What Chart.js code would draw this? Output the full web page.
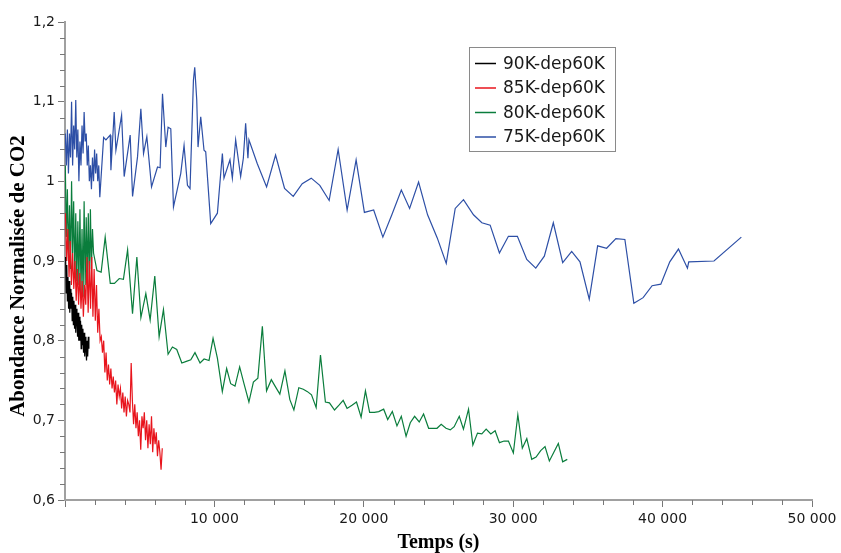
<!DOCTYPE html>
<html>
<head>
<meta charset="utf-8">
<script src="https://cdn.jsdelivr.net/npm/chart.js@4"></script>
<style>
  body { margin: 0; background: #fff; }
</style>
</head>
<body>
<canvas id="chart" width="841" height="553"></canvas>
<script>
// times (s) and normalised CO2 abundance
const labels = ['90K-dep60K', '85K-dep60K', '80K-dep60K', '75K-dep60K'];
const colors = ['#000000', '#e8141c', '#0a7d3c', '#2d4fa6'];
const yTitle = 'Abondance Normalisée de CO2';

const tBlack = [40, 80, 120, 160, 200, 240, 280, 320, 360, 400, 440, 480, 520, 560, 600, 640, 680, 720, 760, 800,
  840, 880, 920, 960, 1000, 1040, 1080, 1120, 1160, 1200, 1240, 1280, 1320, 1360, 1400, 1440, 1480, 1520, 1560, 1600];
const vBlack = [0.905, 0.86, 0.895, 0.85, 0.88, 0.84, 0.875, 0.835, 0.865, 0.84, 0.86, 0.825, 0.855, 0.82, 0.85, 0.815, 0.845, 0.81, 0.84, 0.825,
  0.805, 0.835, 0.80, 0.83, 0.80, 0.825, 0.79, 0.82, 0.795, 0.815, 0.785, 0.81, 0.78, 0.805, 0.79, 0.775, 0.80, 0.78, 0.805, 0.79];

const tRed = [30, 110, 190, 270, 350, 430, 510, 590, 670, 750, 830, 910, 990, 1070, 1150, 1230, 1310, 1390, 1470, 1550,
  1630, 1710, 1790, 1870, 1950, 2030, 2110, 2190, 2270, 2350, 2430, 2510, 2590, 2670, 2750, 2830, 2910, 2990, 3070, 3150,
  3230, 3310, 3390, 3470, 3550, 3630, 3710, 3790, 3870, 3950, 4030, 4110, 4190, 4270, 4350, 4430, 4510, 4590, 4670, 4750,
  4830, 4910, 4990, 5070, 5150, 5230, 5310, 5390, 5470, 5550, 5630, 5710, 5790, 5870, 5950, 6030, 6110, 6190, 6270, 6350,
  6430, 6510];
const vRed = [0.96, 0.90, 0.94, 0.88, 0.925, 0.87, 0.91, 0.865, 0.90, 0.85,
  0.89, 0.845, 0.885, 0.84, 0.875, 0.83, 0.87, 0.845, 0.905, 0.835,
  0.90, 0.84, 0.905, 0.83, 0.89, 0.825, 0.87, 0.81, 0.84, 0.80,
  0.805, 0.785, 0.80, 0.76, 0.785, 0.75, 0.77, 0.745, 0.765, 0.74,
  0.755, 0.735, 0.75, 0.72, 0.745, 0.73, 0.74, 0.715, 0.735, 0.71,
  0.73, 0.705, 0.725, 0.72, 0.71, 0.772, 0.725, 0.695, 0.72, 0.69,
  0.71, 0.68, 0.70, 0.663, 0.705, 0.69, 0.71, 0.675, 0.70, 0.665,
  0.695, 0.67, 0.705, 0.66, 0.69, 0.67, 0.685, 0.655, 0.675, 0.66,
  0.638, 0.665];

const tGreen = [20, 90, 160, 230, 300, 370, 440, 510, 580, 650, 720, 790, 860, 930, 1000, 1070, 1140, 1210, 1280, 1350,
  1420, 1490, 1560, 1630, 1700, 1770, 1840, 1910,
  2140, 2420, 2690, 3030, 3310, 3630, 3910, 4190, 4520, 4810,
  5080, 5410, 5700, 6010, 6300, 6590, 6900, 7190, 7480, 7820,
  8120, 8420, 8700, 9040, 9310, 9640, 9910, 10200, 10530, 10820,
  11090, 11380, 11690, 11980, 12310, 12610, 12910, 13210, 13490, 13810,
  14090, 14380, 14720, 15050, 15320, 15650, 15950, 16230, 16500, 16810,
  17100, 17430, 17700, 18040, 18340, 18620, 18880, 19210, 19510, 19820,
  20110, 20390, 20710, 21000, 21330, 21600, 21910, 22220, 22510, 22830,
  23110, 23400, 23710, 24000, 24340, 24620, 24900, 25180, 25500, 25790,
  26050, 26390, 26670, 27010, 27300, 27610, 27900, 28190, 28500, 28790,
  29080, 29390, 29680, 30010, 30310, 30610, 30910, 31240, 31530, 31840,
  32130, 32420, 32720, 33020, 33310, 33620];
const vGreen = [1.02, 0.93, 0.99, 0.90, 0.97, 0.89, 1.00, 0.91, 0.975, 0.88, 0.96, 0.875, 0.95, 0.87, 0.965, 0.86, 0.94, 0.855, 0.975, 0.87,
  0.955, 0.88, 0.96, 0.87, 0.965, 0.89, 0.94, 0.91,
  0.888, 0.886, 0.930, 0.872, 0.872, 0.878, 0.877, 0.914, 0.834, 0.905,
  0.829, 0.859, 0.826, 0.881, 0.805, 0.839, 0.783, 0.792, 0.789, 0.772,
  0.774, 0.776, 0.785, 0.772, 0.777, 0.775, 0.803, 0.778, 0.736, 0.765,
  0.746, 0.743, 0.767, 0.746, 0.723, 0.748, 0.753, 0.818, 0.737, 0.751,
  0.742, 0.733, 0.762, 0.726, 0.713, 0.741, 0.739, 0.736, 0.732, 0.716,
  0.782, 0.723, 0.722, 0.713, 0.719, 0.725, 0.715, 0.719, 0.723, 0.704,
  0.737, 0.710, 0.710, 0.711, 0.714, 0.701, 0.711, 0.693, 0.705, 0.680,
  0.697, 0.705, 0.698, 0.708, 0.690, 0.690, 0.690, 0.695, 0.690, 0.688,
  0.692, 0.705, 0.689, 0.714, 0.669, 0.684, 0.683, 0.689, 0.683, 0.687,
  0.672, 0.674, 0.674, 0.659, 0.707, 0.665, 0.677, 0.651, 0.654, 0.662,
  0.667, 0.649, 0.660, 0.671, 0.648, 0.651];

const tBlue = [20, 90, 160, 230, 300, 370, 440, 510, 580, 650, 720, 790, 860, 930, 1000, 1070, 1140, 1210, 1280, 1350,
  1420, 1490, 1560, 1630, 1700, 1770, 1840, 1910, 1980, 2050, 2120, 2190, 2260, 2330,
  2585, 2739, 3026, 3073, 3293, 3407, 3788, 3961, 4362, 4522,
  4856, 5077, 5257, 5478, 5792, 6192, 6366, 6526, 6747, 6900,
  7081, 7261, 7749, 7969, 8196, 8370, 8597, 8684, 8818, 8904,
  9085, 9305, 9419, 9753, 10200, 10534, 10641, 11042, 11202, 11423,
  11757, 11937, 12091, 12244, 12311, 12872, 13494, 14095, 14696, 15277,
  15878, 16480, 17054, 17682, 18283, 18884, 19486, 20040, 20661, 21276,
  21877, 22512, 23066, 23667, 24269, 24916, 25518, 26119, 26673, 27341,
  27902, 28457, 29078, 29679, 30280, 30908, 31510, 32084, 32685, 33313,
  33914, 34469, 35090, 35652, 36253, 36874, 37475, 38076, 38697, 39298,
  39880, 40481, 41062, 41663, 41750, 43440, 45270];
const vBlue = [1.06, 1.02, 1.065, 1.01, 1.06, 1.03, 1.10, 1.02, 1.07, 1.04, 1.102, 1.03, 1.065, 1.00, 1.05, 1.02, 1.07, 1.035, 1.087, 1.05,
  1.06, 1.02, 1.045, 1.00, 1.02, 0.99, 1.03, 1.00, 1.04, 1.01, 1.035, 1.0, 1.02, 0.98,
  1.055, 1.052, 1.058, 1.014, 1.087, 1.039, 1.083, 1.006, 1.058, 0.981,
  1.031, 1.091, 1.035, 1.056, 0.993, 1.018, 1.017, 1.110, 1.043, 1.068,
  1.066, 0.968, 1.010, 1.045, 0.995, 0.991, 1.127, 1.143, 1.102, 1.043,
  1.081, 1.039, 1.037, 0.947, 0.960, 1.035, 1.004, 1.027, 1.004, 1.052,
  1.006, 1.029, 1.073, 1.029, 1.052, 1.022, 0.993, 1.033, 0.991, 0.981,
  0.997, 1.004, 0.995, 0.976, 1.040, 0.964, 1.027, 0.961, 0.964, 0.930,
  0.958, 0.989, 0.966, 0.999, 0.958, 0.929, 0.897, 0.966, 0.977, 0.958,
  0.948, 0.945, 0.910, 0.931, 0.931, 0.902, 0.891, 0.906, 0.948, 0.898,
  0.912, 0.899, 0.852, 0.919, 0.916, 0.928, 0.927, 0.847, 0.854, 0.869,
  0.871, 0.899, 0.915, 0.891, 0.899, 0.900, 0.930];

function pts(ts, vs) {
  return ts.map((t, i) => ({ x: t, y: vs[i] }));
}

function frNum(v) {
  return String(Math.round(v * 10) / 10).replace('.', ',');
}

// small ticks between the labelled ones
const minorTicks = {
  id: 'minorTicks',
  afterDraw(chart) {
    const { ctx, chartArea, scales } = chart;
    ctx.save();
    ctx.strokeStyle = '#777';
    ctx.lineWidth = 1;
    ctx.beginPath();
    for (let i = 1; i < 30; i++) {
      if (i % 5 === 0) continue;
      const py = Math.round(scales.y.getPixelForValue(0.6 + i * 0.02)) + 0.5;
      ctx.moveTo(chartArea.left - 5, py);
      ctx.lineTo(chartArea.left, py);
    }
    for (let i = 1; i < 25; i++) {
      if (i % 5 === 0) continue;
      const px = Math.round(scales.x.getPixelForValue(i * 2000)) + 0.5;
      ctx.moveTo(px, chartArea.bottom);
      ctx.lineTo(px, chartArea.bottom + 5);
    }
    ctx.stroke();
    ctx.restore();
  }
};

// y title sits a bit below the axis middle in the original
const sideTitle = {
  id: 'sideTitle',
  afterDraw(chart) {
    const ctx = chart.ctx;
    ctx.save();
    ctx.translate(19, 276);
    ctx.rotate(-Math.PI / 2);
    ctx.font = 'bold 21px "Liberation Serif"';
    ctx.fillStyle = '#000';
    ctx.textAlign = 'center';
    ctx.textBaseline = 'middle';
    ctx.fillText(yTitle, 0, 0);
    ctx.restore();
  }
};

// boxed legend like the original
const boxLegend = {
  id: 'boxLegend',
  afterDraw(chart) {
    const ctx = chart.ctx;
    ctx.save();
    ctx.strokeStyle = '#8a8a8a';
    ctx.lineWidth = 1;
    ctx.strokeRect(469.5, 47.5, 146, 104);
    ctx.font = '17px "DejaVu Sans"';
    ctx.textBaseline = 'middle';
    chart.data.datasets.forEach((ds, i) => {
      const y = 63.5 + i * 24.5;
      ctx.strokeStyle = ds.borderColor;
      ctx.lineWidth = 1.5;
      ctx.beginPath();
      ctx.moveTo(475, y);
      ctx.lineTo(496, y);
      ctx.stroke();
      ctx.fillStyle = '#1a1a1a';
      ctx.fillText(ds.label, 503, y + 1);
    });
    ctx.restore();
  }
};

function initialize() {
  const series = [pts(tBlack, vBlack), pts(tRed, vRed), pts(tGreen, vGreen), pts(tBlue, vBlue)];
  const tickFont = { family: 'DejaVu Sans', size: 14 };
  new Chart(document.getElementById('chart'), {
    type: 'line',
    data: {
      datasets: series.map((d, i) => ({
        label: labels[i],
        data: d,
        borderColor: colors[i],
        borderWidth: 1.2,
        pointRadius: 0,
        tension: 0,
        fill: false
      }))
    },
    options: {
      responsive: false,
      animation: false,
      layout: { padding: { top: 22, right: 29, left: 0, bottom: 0 } },
      plugins: { legend: { display: false }, tooltip: { enabled: false } },
      scales: {
        x: {
          type: 'linear',
          min: 0,
          max: 50000,
          afterFit: s => { s.height = 53; },
          border: { color: '#a0a0a0', width: 2 },
          grid: { drawOnChartArea: false, tickLength: 7, tickColor: '#777' },
          ticks: {
            stepSize: 10000,
            color: '#1a1a1a',
            font: tickFont,
            padding: 4,
            maxRotation: 0,
            callback: v => v === 0 ? '' : String(v).replace(/\B(?=(\d{3})+(?!\d))/g, ' ')
          },
          title: {
            display: true,
            text: 'Temps (s)',
            color: '#000',
            font: { family: 'Liberation Serif', size: 20, weight: 'bold', lineHeight: 1 },
            padding: { top: 0, bottom: 0 }
          }
        },
        y: {
          min: 0.6,
          max: 1.2,
          afterFit: s => { s.width = 65; },
          border: { color: '#a0a0a0', width: 2 },
          grid: { drawOnChartArea: false, tickLength: 7, tickColor: '#777' },
          ticks: {
            stepSize: 0.1,
            color: '#1a1a1a',
            font: tickFont,
            padding: 3,
            callback: v => frNum(v)
          }
        }
      }
    },
    plugins: [minorTicks, sideTitle, boxLegend]
  });
}

initialize();
</script>
</body>
</html>
